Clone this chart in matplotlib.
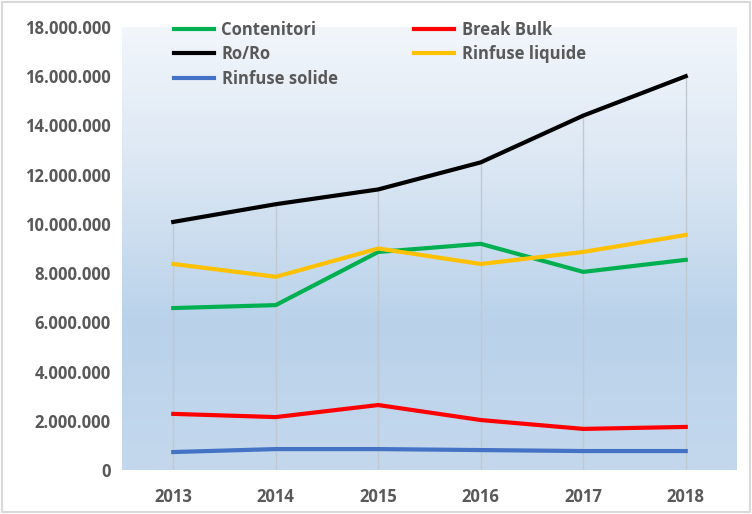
import matplotlib.pyplot as plt
import numpy as np
from matplotlib.ticker import FuncFormatter
from matplotlib.colors import LinearSegmentedColormap

years = ['2013', '2014', '2015', '2016', '2017', '2018']
contenitori = [6580000, 6700000, 8860000, 9190000, 8050000, 8540000]
break_bulk = [2280000, 2150000, 2640000, 2030000, 1670000, 1750000]
ro_ro = [10080000, 10800000, 11400000, 12500000, 14400000, 16000000]
rinfuse_liquide = [8370000, 7850000, 9000000, 8370000, 8860000, 9550000]
rinfuse_solide = [730000, 850000, 850000, 810000, 770000, 770000]

txt = '#595959'
plt.rcParams['font.family'] = ['Open Sans', 'DejaVu Sans']

fig = plt.figure(figsize=(7.52, 5.14), dpi=100)
ax = fig.add_axes([122/752, 44/514, 615/752, 443/514])

x = np.arange(len(years))

# gradient plot area, light at top
cmap = LinearSegmentedColormap.from_list('bg', ['#f2f6fb', '#dae6f3', '#b9d2ea', '#c4d8ed'])
grad = np.linspace(0, 1, 256).reshape(-1, 1)
ax.imshow(grad, extent=[-0.5, 5.5, 0, 18000000], origin='upper', aspect='auto', cmap=cmap, zorder=0)

# drop lines
tops = np.max([contenitori, break_bulk, ro_ro, rinfuse_liquide, rinfuse_solide], axis=0)
ax.vlines(x, 0, tops, color='#c0c8d2', lw=1, zorder=1)

l1, = ax.plot(x, contenitori, color='#00B050', lw=3, label='Contenitori', zorder=3)
l2, = ax.plot(x, break_bulk, color='#FF0000', lw=3, label='Break Bulk', zorder=3)
l3, = ax.plot(x, ro_ro, color='#000000', lw=3, label='Ro/Ro', zorder=3)
l4, = ax.plot(x, rinfuse_liquide, color='#FFC000', lw=3, label='Rinfuse liquide', zorder=3)
l5, = ax.plot(x, rinfuse_solide, color='#4472C4', lw=3, label='Rinfuse solide', zorder=3)

ax.set_xlim(-0.5, 5.5)
ax.set_ylim(0, 18000000)
ax.set_yticks(np.arange(0, 18000001, 2000000))
ax.yaxis.set_major_formatter(FuncFormatter(lambda v, p: f'{int(v):,}'.replace(',', '.')))
ax.set_xticks(x)
ax.set_xticklabels(years)
ax.tick_params(length=0, labelsize=12, labelcolor=txt, pad=8)
ax.tick_params(axis='x', pad=13)
for lab in ax.get_xticklabels() + ax.get_yticklabels():
    lab.set_fontweight('bold')
for s in ax.spines.values():
    s.set_visible(False)

leg = fig.legend([l1, l3, l5, l2, l4],
                 ['Contenitori', 'Ro/Ro', 'Rinfuse solide', 'Break Bulk', 'Rinfuse liquide'],
                 ncol=2, loc='upper left', bbox_to_anchor=(174/752, 1 - 21/514),
                 frameon=False, borderpad=0, borderaxespad=0, handlelength=2.4,
                 handletextpad=0.45, labelspacing=0.38, columnspacing=4.6,
                 prop={'size': 12, 'weight': 'bold'})
for t in leg.get_texts():
    t.set_color(txt)

# outer border
fig.patches.append(plt.Rectangle((0.003, 0.004), 0.994, 0.992, transform=fig.transFigure,
                                 fill=False, edgecolor='#d9d9d9', lw=1.5))

fig.savefig('out.png', dpi=100)
